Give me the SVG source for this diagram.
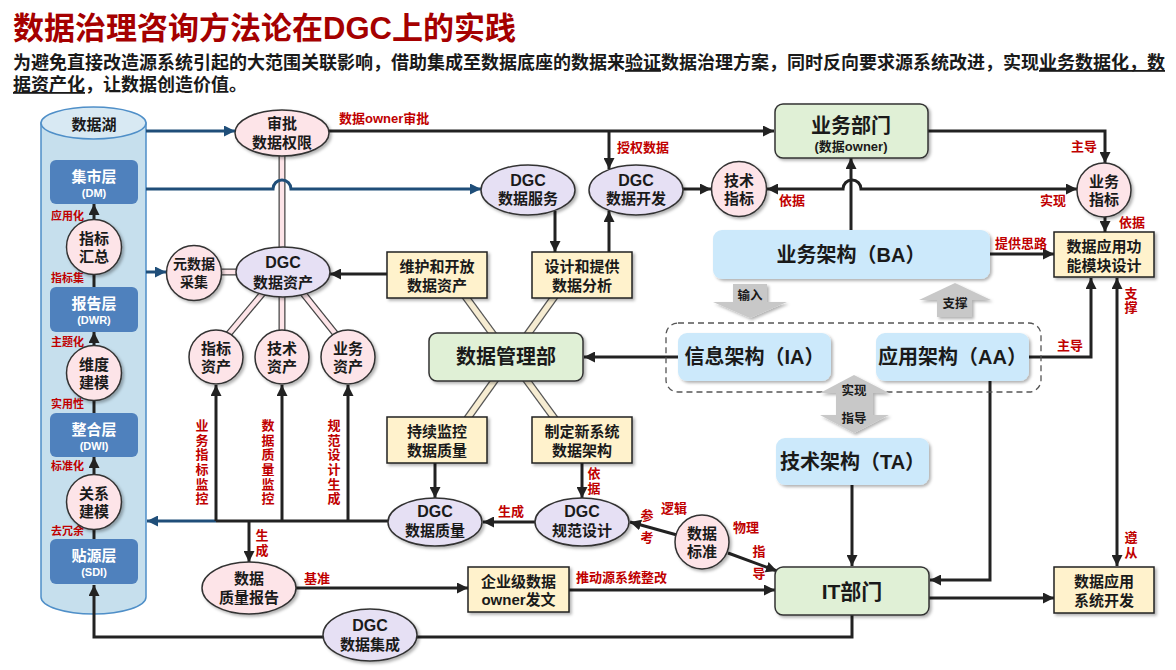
<svg xmlns="http://www.w3.org/2000/svg" width="1176" height="670" viewBox="0 0 1176 670">
<defs>
<filter id="sh" x="-20%" y="-20%" width="150%" height="150%">
<feDropShadow dx="2" dy="2" stdDeviation="1.5" flood-color="#000" flood-opacity="0.3"/>
</filter>
<marker id="ah" viewBox="0 0 11 11" refX="11" refY="5.5" markerWidth="11" markerHeight="11" markerUnits="userSpaceOnUse" orient="auto-start-reverse">
<path d="M0,0 L11,5.5 L0,11 z" fill="#222"/>
</marker>
<marker id="ahb" viewBox="0 0 11 11" refX="11" refY="5.5" markerWidth="11" markerHeight="11" markerUnits="userSpaceOnUse" orient="auto">
<path d="M0,0 L11,5.5 L0,11 z" fill="#1f4e79"/>
</marker>
<style>
text{font-family:"Liberation Sans","Noto Sans CJK SC",sans-serif;font-weight:bold}
.t{fill:#1a1a1a;text-anchor:middle;dominant-baseline:central;font-size:15px}
.dgc{font-size:16px}
.big{font-size:20px}
.sm{font-size:11px}
.s13{font-size:13px}
.s14{font-size:14px}
.s21{font-size:21px}
.w{fill:#fff}
.r{fill:#c00000;font-size:13px;dominant-baseline:central}
.rm{text-anchor:middle}
.rs{font-size:11px}
.g{font-size:12.5px}
.pk{fill:#fde4e8;stroke:#333;stroke-width:1.5;filter:url(#sh)}
.lv{fill:#e6e0f4;stroke:#333;stroke-width:1.5;filter:url(#sh)}
.yb{fill:#fff2cc;stroke:#222;stroke-width:1.5;filter:url(#sh)}
.gb{fill:#e0f0d6;stroke:#333;stroke-width:1.5;filter:url(#sh)}
.bb{fill:#cce9fb;filter:url(#sh)}
.lay{fill:#4f81bd}
.ga{fill:#c8c8c8;filter:url(#sh)}
.ln{fill:none;stroke:#222;stroke-width:3}
.arr{marker-end:url(#ah)}
.dbl{marker-start:url(#ah);marker-end:url(#ah)}
.bl{fill:none;stroke:#1f4e79;stroke-width:3;marker-end:url(#ahb)}
.to{fill:none;stroke:#444;stroke-width:7}
.tp{fill:none;stroke:#fde4e8;stroke-width:4.5}
.tyo{fill:none;stroke:#555;stroke-width:8}
.ty{fill:none;stroke:#f6ecd2;stroke-width:5.5}
</style>
</defs>
<rect width="1176" height="670" fill="#fff"/>

<g id="header">
<text x="13" y="39" font-size="31" fill="#a50000">数据治理咨询方法论在DGC上的实践</text>
<text x="13" y="69" font-size="18" fill="#1a1a1a">为避免直接改造源系统引起的大范围关联影响，借助集成至数据底座的数据来<tspan text-decoration="underline">验证</tspan>数据治理方案，同时反向要求源系统改进，实现<tspan text-decoration="underline">业务数据化，数</tspan></text>
<text x="13" y="91" font-size="18" fill="#1a1a1a"><tspan text-decoration="underline">据资产化</tspan>，让数据创造价值。</text>
</g>

<g id="datalake">
<path d="M41,123 V597 A52.5,17 0 0 0 146,597 V123 z" fill="#c6dfed" stroke="#4f8fc8" stroke-width="1.5"/>
<ellipse cx="93.5" cy="123" rx="52.5" ry="16" fill="#d8e9f3" stroke="#4f8fc8" stroke-width="1.5"/>
<text class="t" x="94" y="124">数据湖</text>
</g>

<g id="connectors">
<path class="to" d="M282,150 V255"/><path class="tp" d="M282,150 V255"/>
<path class="to" d="M215,272 H245"/><path class="tp" d="M215,272 H245"/>
<path class="to" d="M268,287 L222,342"/><path class="tp" d="M268,287 L222,342"/>
<path class="to" d="M282,290 V340"/><path class="tp" d="M282,290 V340"/>
<path class="to" d="M298,287 L342,342"/><path class="tp" d="M298,287 L342,342"/>
<path class="tyo" d="M465,296 L555,419"/><path class="ty" d="M465,296 L555,419"/>
<path class="tyo" d="M555,296 L467,419"/><path class="ty" d="M555,296 L467,419"/>
<path class="bl" d="M146,131 H235"/>
<path class="bl" d="M146,189 H273 A9,9 0 0 1 291,189 H481"/>
<path class="bl" d="M146,272 H166"/>
<path class="bl" d="M216,521 H147"/>
<path class="ln arr" d="M94,219 V204"/>
<path class="ln" d="M94,287 V274"/>
<path class="ln arr" d="M94,346 V332"/>
<path class="ln" d="M94,413 V400"/>
<path class="ln arr" d="M94,475 V457"/>
<path class="ln" d="M94,539 V529"/>
<path class="ln arr" d="M329,131 H774"/>
<path class="ln arr" d="M609,131 V169"/>
<path class="ln arr" d="M928,131 H1105 V163"/>
<path class="ln dbl" d="M767,189 H843 A9,9 0 0 1 861,189 H1077"/>
<path class="ln arr" d="M851,230 V158"/>
<path class="ln arr" d="M683,189 H711"/>
<path class="ln arr" d="M555,211 V252"/>
<path class="ln arr" d="M609,252 V211"/>
<path class="ln arr" d="M387,274 H330"/>
<path class="ln arr" d="M1105,217 V232"/>
<path class="ln arr" d="M990,254 H1054"/>
<path class="ln arr" d="M678,357 H584"/>
<path class="ln arr" d="M1029,357 H1091 V278"/>
<path class="ln dbl" d="M1117,278 V566"/>
<path class="ln arr" d="M990,381 V580 H930"/>
<path class="ln arr" d="M852,485 V566"/>
<path class="ln arr" d="M216,521 V385"/>
<path class="ln arr" d="M282,521 V385"/>
<path class="ln arr" d="M348,521 V385"/>
<path class="ln" d="M216,521 H388"/>
<path class="ln arr" d="M249,521 V562"/>
<path class="ln arr" d="M435,463 V498"/>
<path class="ln arr" d="M582,463 V498"/>
<path class="ln arr" d="M535,522 H483"/>
<path class="ln arr" d="M677,535 L630,522"/>
<path class="ln arr" d="M728,553 L777,571"/>
<path class="ln arr" d="M296,588 H468"/>
<path class="ln arr" d="M569,590 H775"/>
<path class="ln arr" d="M929,598 H1054"/>
<path class="ln arr" d="M852,615 V637 H94 V585"/>
</g>

<g id="labels">
<text class="r rs" x="51" y="216">应用化</text>
<text class="r rs" x="51" y="278">指标集</text>
<text class="r rs" x="51" y="342">主题化</text>
<text class="r rs" x="51" y="404">实用性</text>
<text class="r rs" x="51" y="466">标准化</text>
<text class="r rs" x="51" y="531">去冗余</text>
<text class="r" x="339" y="118">数据owner审批</text>
<text class="r" x="617" y="147">授权数据</text>
<text class="r rm" x="1084" y="146">主导</text>
<text class="r rm" x="792" y="200">依据</text>
<text class="r rm" x="1053" y="200">实现</text>
<text class="r rm" x="1132" y="222">依据</text>
<text class="r rm" x="1021" y="243">提供思路</text>
<text class="r rm" x="1070" y="345">主导</text>
<text class="r rm"><tspan x="1131" y="293">支</tspan><tspan x="1131" y="307">撑</tspan></text>
<text class="r rm"><tspan x="1131" y="537">遵</tspan><tspan x="1131" y="552">从</tspan></text>
<text class="r rm"><tspan x="202" y="425">业</tspan><tspan x="202" y="440">务</tspan><tspan x="202" y="454">指</tspan><tspan x="202" y="469">标</tspan><tspan x="202" y="484">监</tspan><tspan x="202" y="498">控</tspan></text>
<text class="r rm"><tspan x="268" y="425">数</tspan><tspan x="268" y="440">据</tspan><tspan x="268" y="454">质</tspan><tspan x="268" y="469">量</tspan><tspan x="268" y="484">监</tspan><tspan x="268" y="498">控</tspan></text>
<text class="r rm"><tspan x="334" y="425">规</tspan><tspan x="334" y="440">范</tspan><tspan x="334" y="454">设</tspan><tspan x="334" y="469">计</tspan><tspan x="334" y="484">生</tspan><tspan x="334" y="498">成</tspan></text>
<text class="r rm"><tspan x="262" y="535">生</tspan><tspan x="262" y="550">成</tspan></text>
<text class="r rm"><tspan x="594" y="473">依</tspan><tspan x="594" y="488">据</tspan></text>
<text class="r rm" x="511" y="511">生成</text>
<text class="r rm"><tspan x="647" y="515">参</tspan><tspan x="647" y="537">考</tspan></text>
<text class="r rm" x="674" y="508">逻辑</text>
<text class="r rm" x="746" y="527">物理</text>
<text class="r rm"><tspan x="759" y="551">指</tspan><tspan x="759" y="573">导</tspan></text>
<text class="r rm" x="317" y="578">基准</text>
<text class="r" x="576" y="577">推动源系统整改</text>
</g>

<g id="layer-dm"><rect class="lay" x="50" y="160" width="88" height="44" rx="6"/><text class="t w" x="94" y="176">集市层</text><text class="t w sm" x="94" y="193">(DM)</text></g>
<g id="layer-dwr"><rect class="lay" x="50" y="287" width="88" height="45" rx="6"/><text class="t w" x="94" y="303">报告层</text><text class="t w sm" x="94" y="320">(DWR)</text></g>
<g id="layer-dwi"><rect class="lay" x="50" y="413" width="88" height="44" rx="6"/><text class="t w" x="94" y="429">整合层</text><text class="t w sm" x="94" y="446">(DWI)</text></g>
<g id="layer-sdi"><rect class="lay" x="50" y="539" width="88" height="45" rx="6"/><text class="t w" x="94" y="555">贴源层</text><text class="t w sm" x="94" y="572">(SDI)</text></g>

<g id="c-zbhz"><circle class="pk" cx="94" cy="247" r="27.5"/><text class="t" x="94" y="238">指标</text><text class="t" x="94" y="256">汇总</text></g>
<g id="c-wdjm"><circle class="pk" cx="94" cy="373" r="27.5"/><text class="t" x="94" y="364">维度</text><text class="t" x="94" y="382">建模</text></g>
<g id="c-gxjm"><circle class="pk" cx="94" cy="502" r="27.5"/><text class="t" x="94" y="493">关系</text><text class="t" x="94" y="511">建模</text></g>

<g id="e-sp"><ellipse class="pk" cx="282" cy="133" rx="47" ry="23"/><text class="t" x="282" y="123">审批</text><text class="t" x="282" y="142">数据权限</text></g>
<g id="c-ysj"><circle class="pk" cx="194" cy="273" r="27.5"/><text class="t s14" x="194" y="264">元数据</text><text class="t s14" x="194" y="282">采集</text></g>
<g id="e-zc"><ellipse class="lv" cx="283" cy="272" rx="47" ry="25"/><text class="t dgc" x="283" y="262">DGC</text><text class="t" x="283" y="282">数据资产</text></g>
<g id="c-zbzc"><circle class="pk" cx="216" cy="357" r="27"/><text class="t" x="216" y="348">指标</text><text class="t" x="216" y="366">资产</text></g>
<g id="c-jszc"><circle class="pk" cx="282" cy="357" r="27"/><text class="t" x="282" y="348">技术</text><text class="t" x="282" y="366">资产</text></g>
<g id="c-ywzc"><circle class="pk" cx="348" cy="357" r="27"/><text class="t" x="348" y="348">业务</text><text class="t" x="348" y="366">资产</text></g>

<g id="e-fw"><ellipse class="lv" cx="528" cy="190" rx="47" ry="25"/><text class="t dgc" x="528" y="180">DGC</text><text class="t" x="528" y="198">数据服务</text></g>
<g id="e-kf"><ellipse class="lv" cx="636" cy="190" rx="47" ry="25"/><text class="t dgc" x="636" y="180">DGC</text><text class="t" x="636" y="198">数据开发</text></g>
<g id="c-jszb"><circle class="pk" cx="739" cy="189" r="27.5"/><text class="t" x="739" y="180">技术</text><text class="t" x="739" y="198">指标</text></g>

<g id="b-wh"><rect class="yb" x="387" y="252" width="100" height="46"/><text class="t" x="437" y="266">维护和开放</text><text class="t" x="437" y="285">数据资产</text></g>
<g id="b-sj"><rect class="yb" x="532" y="252" width="100" height="46"/><text class="t" x="582" y="266">设计和提供</text><text class="t" x="582" y="285">数据分析</text></g>
<g id="b-sjglb"><rect class="gb" x="429" y="333" width="154" height="48" rx="8"/><text class="t big" x="506" y="357">数据管理部</text></g>
<g id="b-cxjk"><rect class="yb" x="387" y="417" width="100" height="46"/><text class="t" x="437" y="431">持续监控</text><text class="t" x="437" y="450">数据质量</text></g>
<g id="b-zdxxt"><rect class="yb" x="532" y="417" width="100" height="46"/><text class="t" x="582" y="431">制定新系统</text><text class="t" x="582" y="450">数据架构</text></g>

<g id="e-zl"><ellipse class="lv" cx="435" cy="522" rx="47" ry="24"/><text class="t dgc" x="435" y="511">DGC</text><text class="t" x="435" y="530">数据质量</text></g>
<g id="e-gf"><ellipse class="lv" cx="582" cy="522" rx="47" ry="24"/><text class="t dgc" x="582" y="511">DGC</text><text class="t" x="582" y="530">规范设计</text></g>
<g id="c-sjbz"><circle class="pk" cx="702" cy="542" r="27"/><text class="t" x="702" y="533">数据</text><text class="t" x="702" y="551">标准</text></g>
<g id="e-zlbg"><ellipse class="pk" cx="249" cy="588" rx="47" ry="26"/><text class="t" x="249" y="578">数据</text><text class="t" x="249" y="597">质量报告</text></g>
<g id="b-qyj"><rect class="yb" x="468" y="567" width="101" height="45"/><text class="t" x="518.5" y="581">企业级数据</text><text class="t" x="518.5" y="599">owner发文</text></g>
<g id="e-jc"><ellipse class="lv" cx="370" cy="635" rx="47" ry="26"/><text class="t dgc" x="370" y="625">DGC</text><text class="t" x="370" y="644">数据集成</text></g>

<g id="b-ywbm"><rect class="gb" x="775" y="104" width="153" height="54" rx="8"/><text class="t big" x="851" y="126">业务部门</text><text class="t s13" x="851" y="146">(数据owner)</text></g>
<g id="c-ywzb"><circle class="pk" cx="1104" cy="190" r="27"/><text class="t" x="1104" y="181">业务</text><text class="t" x="1104" y="199">指标</text></g>
<g id="b-gnmk"><rect class="yb" x="1054" y="232" width="100" height="45"/><text class="t" x="1104" y="246">数据应用功</text><text class="t" x="1104" y="265">能模块设计</text></g>
<g id="b-ba"><rect class="bb" x="713" y="230" width="277" height="49" rx="9"/><text class="t big" x="851" y="255">业务架构（BA）</text></g>

<g id="arch-group"><rect x="666" y="323" width="375" height="69" rx="12" fill="none" stroke="#555" stroke-width="1.3" stroke-dasharray="6 4"/></g>
<g id="b-ia"><rect class="bb" x="678" y="333" width="153" height="48" rx="9"/><text class="t big" x="754.5" y="357">信息架构（IA）</text></g>
<g id="b-aa"><rect class="bb" x="876" y="333" width="153" height="48" rx="9"/><text class="t big" x="952.5" y="357">应用架构（AA）</text></g>
<g id="b-ta"><rect class="bb" x="776" y="438" width="153" height="47" rx="9"/><text class="t big" x="852.5" y="462">技术架构（TA）</text></g>
<g id="b-it"><rect class="gb" x="775" y="567" width="154" height="48" rx="8"/><text class="t s21" x="852" y="591">IT部门</text></g>
<g id="b-xtkf"><rect class="yb" x="1054" y="567" width="100" height="46"/><text class="t" x="1104" y="581">数据应用</text><text class="t" x="1104" y="600">系统开发</text></g>

<g id="ga-input"><polygon class="ga" points="733,284 767,284 767,302 787,302 750,318 713,302 733,302"/><text class="t g" x="750" y="296">输入</text></g>
<g id="ga-support"><polygon class="ga" points="955,283 991,300 972,300 972,317 937,317 937,300 919,300"/><text class="t g" x="955" y="304">支撑</text></g>
<g id="ga-impl"><polygon class="ga" points="854,375 889,393 873,393 873,415 889,415 854,433 820,415 836,415 836,393 820,393"/><text class="t g" x="854" y="391">实现</text><text class="t g" x="854" y="419">指导</text></g>
</svg>
